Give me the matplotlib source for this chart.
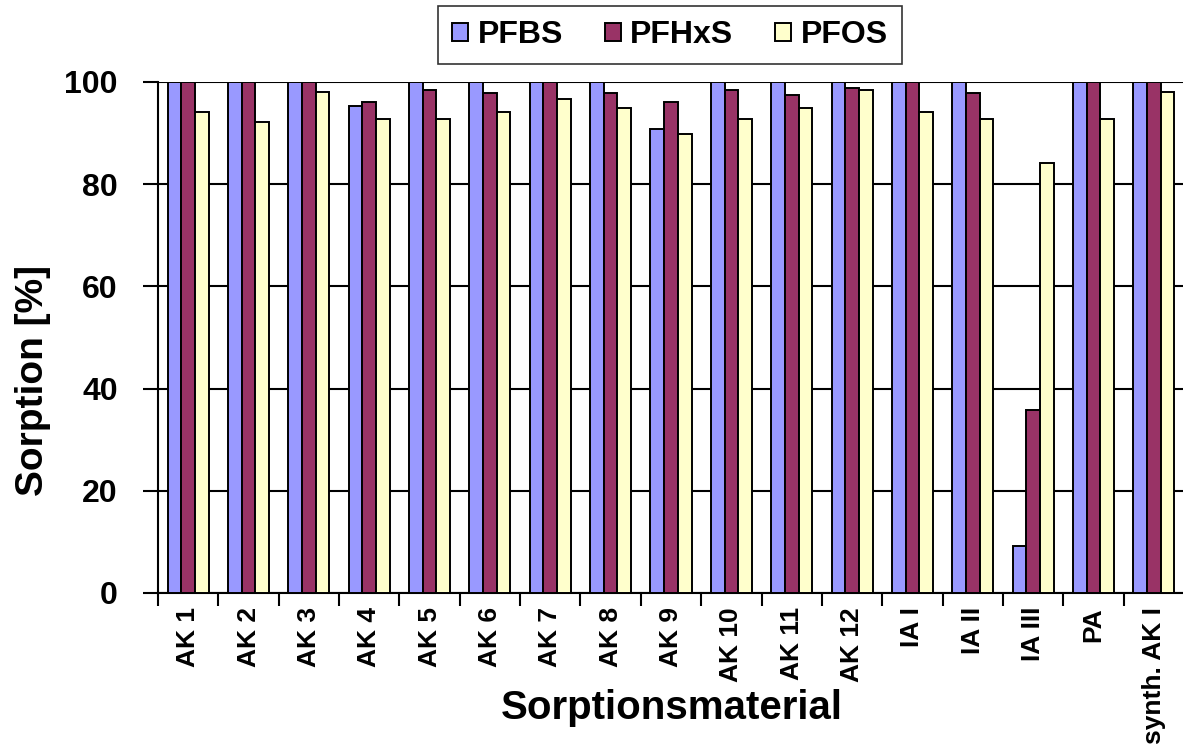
import matplotlib
matplotlib.use('Agg')
import matplotlib.pyplot as plt
import numpy as np

plt.rcParams['font.family'] = ['Liberation Sans', 'DejaVu Sans']
plt.rcParams['font.weight'] = 'bold'

# Sorption je Material und Substanz in %
materials = ['AK 1', 'AK 2', 'AK 3', 'AK 4', 'AK 5', 'AK 6', 'AK 7', 'AK 8', 'AK 9',
             'AK 10', 'AK 11', 'AK 12', 'IA I', 'IA II', 'IA III', 'PA', 'synth. AK I']
pfbs = [100, 100, 100, 95.4, 100, 100, 100, 100, 90.9, 100, 100, 100, 100, 100, 9.2, 100, 100]
pfhxs = [100, 100, 100, 96.0, 98.4, 97.9, 100, 97.9, 96.0, 98.4, 97.5, 98.8, 100, 97.9, 35.9, 100, 100]
pfos = [94.1, 92.1, 98.1, 92.7, 92.7, 94.2, 96.7, 94.9, 89.8, 92.8, 94.9, 98.5, 94.1, 92.8, 84.1, 92.8, 98.1]

series = [('PFBS', pfbs, '#9999FF'), ('PFHxS', pfhxs, '#993366'), ('PFOS', pfos, '#FFFFCC')]

fig = plt.figure(figsize=(11.83, 7.46), dpi=100)
ax = fig.add_axes([158 / 1183, 1 - 593 / 746, 1026 / 1183, 511 / 746])

x = np.arange(len(materials))
w = 0.227
for i, (name, vals, col) in enumerate(series):
    ax.bar(x + (i - 1) * w, vals, w, color=col, edgecolor='black', linewidth=1.4,
           label=name, zorder=3)

ax.set_xlim(-0.5, len(materials) - 0.5)
ax.set_ylim(0, 100)
ax.set_yticks([0, 20, 40, 60, 80, 100])
ax.yaxis.grid(True, color='black', linewidth=1.5, zorder=0)
ax.set_axisbelow(True)

# Striche zwischen den Kategorien, Beschriftung mittig
ax.set_xticks(x - 0.5, minor=False)
ax.set_xticklabels([])
ax.set_xticks(x, minor=True)
ax.set_xticklabels(materials, minor=True, rotation=90, fontsize=19, fontweight='bold',
                   va='top', ha='center')
ax.tick_params(axis='x', which='major', length=9, width=1.5, direction='out')
ax.tick_params(axis='x', which='minor', length=0, pad=10)
ax.tick_params(axis='y', length=11, width=1.5, labelsize=23, pad=18)
for lab in ax.get_yticklabels():
    lab.set_fontweight('bold')

for s in ['top', 'right']:
    ax.spines[s].set_visible(False)
for s in ['left', 'bottom']:
    ax.spines[s].set_linewidth(1.5)

fig.text(33 / 1183, 1 - 380 / 746, 'Sorption [%]', rotation=90, fontsize=28,
         fontweight='bold', ha='center', va='center')
fig.text(672 / 1183, 1 - 708 / 746, 'Sorptionsmaterial', fontsize=29,
         fontweight='bold', ha='center', va='center')

leg = fig.legend(loc='center', bbox_to_anchor=(670 / 1183, 1 - 35 / 746), ncol=3,
                 fontsize=23, frameon=True, fancybox=False, edgecolor='black',
                 handlelength=0.5, handleheight=0.5, handletextpad=0.3,
                 columnspacing=1.3, borderpad=0.45, borderaxespad=0)
leg.get_frame().set_linewidth(1.2)
for t in leg.get_texts():
    t.set_fontweight('bold')

fig.savefig('out.png', dpi=100)
